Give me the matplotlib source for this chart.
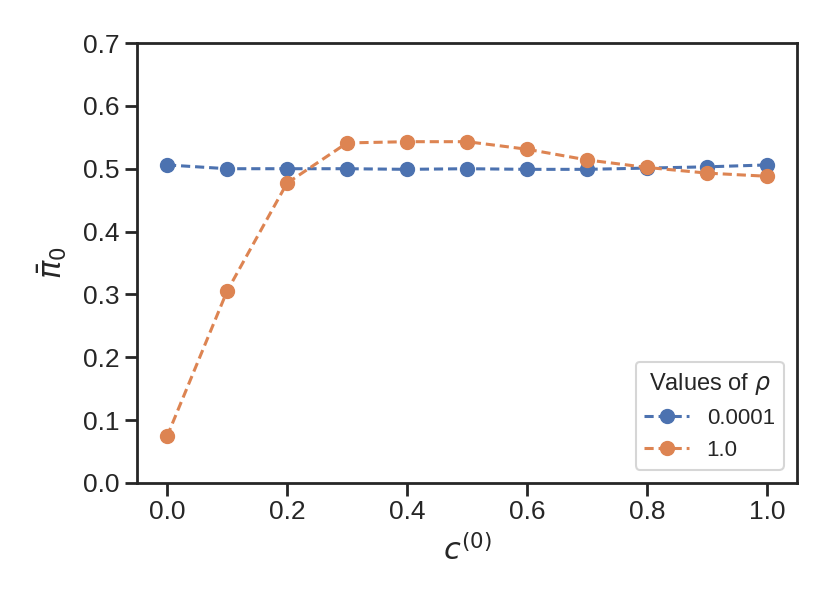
import matplotlib
matplotlib.use("Agg")
import matplotlib.pyplot as plt
import seaborn as sns

sns.set_theme(style="ticks", context="talk")
plt.rcParams['font.family'] = ['Liberation Sans', 'DejaVu Sans']

c0 = [0.0, 0.1, 0.2, 0.3, 0.4, 0.5, 0.6, 0.7, 0.8, 0.9, 1.0]
rho_labels = ["0.0001", "1.0"]
pi_rho_small = [0.506, 0.500, 0.500, 0.500, 0.499, 0.500, 0.499, 0.499, 0.501, 0.503, 0.506]
pi_rho_one = [0.074, 0.305, 0.477, 0.541, 0.543, 0.543, 0.531, 0.514, 0.502, 0.493, 0.488]

colors = ["#4c72b0", "#dd8452"]

fig = plt.figure(figsize=(8.3, 6.09), dpi=100)
ax = fig.add_axes([137/830, 1-483/609, 660/830, 440/609])

for ys, lab, col in zip([pi_rho_small, pi_rho_one], rho_labels, colors):
    ax.plot(c0, ys, linestyle="--", marker="o", color=col, label=lab,
            linewidth=2.2, markersize=10, dashes=(3.0, 1.6))

ax.set_ylim(0.0, 0.7)
ax.set_yticks([0.0, 0.1, 0.2, 0.3, 0.4, 0.5, 0.6, 0.7])
ax.set_xticks([0.0, 0.2, 0.4, 0.6, 0.8, 1.0])
ax.set_xlabel(r"$c^{(0)}$", fontsize=22, labelpad=8)
ax.set_ylabel(r"$\bar{\pi}_0$", fontsize=22, labelpad=10)
ax.tick_params(labelsize=19, length=9, width=2.0)
for s in ax.spines.values():
    s.set_linewidth(2.0)
leg = ax.legend(title=r"Values of $\rho$", loc="lower right", fontsize=16,
                title_fontsize=17, borderaxespad=0.6)

fig.savefig("out.png", dpi=100)
